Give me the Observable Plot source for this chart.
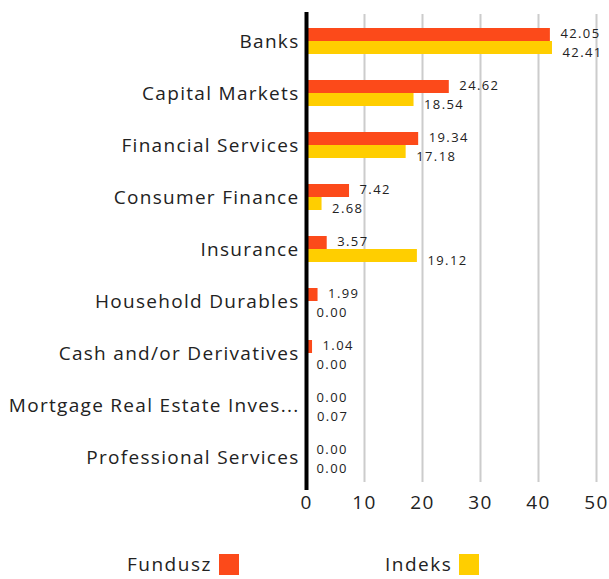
<!DOCTYPE html>
<html>
<head>
<meta charset="utf-8">
<script src="https://cdn.jsdelivr.net/npm/d3@7"></script>
<script src="https://cdn.jsdelivr.net/npm/@observablehq/plot@0.6"></script>
<style>
  body { margin: 0; background: #fff; font-family: "Open Sans", sans-serif; }
  #wrap { position: relative; width: 609px; height: 579px; }
  .leg { position: absolute; top: 551px; display: flex; align-items: center; font-size: 19px; color: #222; letter-spacing: 1.5px; }
  .sw { width: 20px; height: 21px; margin-left: 7px; }
  svg g[aria-label="y-axis tick label"] text,
  svg g[aria-label="x-axis tick label"] text { letter-spacing: 1.3px; }
  svg g[aria-label="text"] text { letter-spacing: 1.4px; }
</style>
</head>
<body>
<div id="wrap">
  <div id="chart"></div>
  <div class="leg" style="left:127px">Fundusz<span class="sw" style="background:#FC4A1A"></span></div>
  <div class="leg" style="left:385px">Indeks<span class="sw" style="background:#FFCE00"></span></div>
</div>
<script>
const categories = ["Banks", "Capital Markets", "Financial Services", "Consumer Finance", "Insurance", "Household Durables", "Cash and/or Derivatives", "Mortgage Real Estate Inves...", "Professional Services"];
const fundusz = [42.05, 24.62, 19.34, 7.42, 3.57, 1.99, 1.04, 0.00, 0.00];
const indeks = [42.41, 18.54, 17.18, 2.68, 19.12, 0.00, 0.00, 0.07, 0.00];
const xTicks = [0, 10, 20, 30, 40, 50];
const seriesNames = ["Fundusz", "Indeks"];
const colors = ["#FC4A1A", "#FFCE00"];

const rows = categories.map((c, i) => ({cat: c, fund: fundusz[i], ind: indeks[i]}));

const chart = Plot.plot({
  width: 609,
  height: 530,
  marginLeft: 306,
  marginRight: 13,
  marginTop: 12,
  marginBottom: 44,
  style: {fontFamily: "Open Sans, sans-serif", color: "#222", background: "#fff"},
  x: {domain: [0, 50], ticks: xTicks},
  y: {domain: categories, paddingInner: 0.5, paddingOuter: 0.3077, round: false},
  marks: [
    Plot.ruleX(xTicks.filter(d => d > 0), {stroke: "#cccccc", strokeWidth: 2, insetTop: 2, insetBottom: 4}),
    Plot.barX(rows, {x1: 0, x2: "fund", y: "cat", fill: colors[0], insetBottom: 13}),
    Plot.barX(rows, {x1: 0, x2: "ind", y: "cat", fill: colors[1], insetTop: 13}),
    Plot.text(rows, {x: "fund", y: "cat", text: d => d.fund.toFixed(2), dx: 10, dy: -8, textAnchor: "start", fontSize: 13, fill: "#222"}),
    Plot.text(rows, {x: "ind", y: "cat", text: d => d.ind.toFixed(2), dx: 10, dy: 11, textAnchor: "start", fontSize: 13, fill: "#222"}),
    Plot.ruleX([0], {stroke: "#000", strokeWidth: 4, insetBottom: -4}),
    Plot.axisX({ticks: xTicks, tickSize: 0, tickPadding: 9, fontSize: 19, label: null}),
    Plot.axisY({tickSize: 0, tickPadding: 7, fontSize: 19, label: null})
  ]
});
document.getElementById("chart").appendChild(chart);
</script>
</body>
</html>
